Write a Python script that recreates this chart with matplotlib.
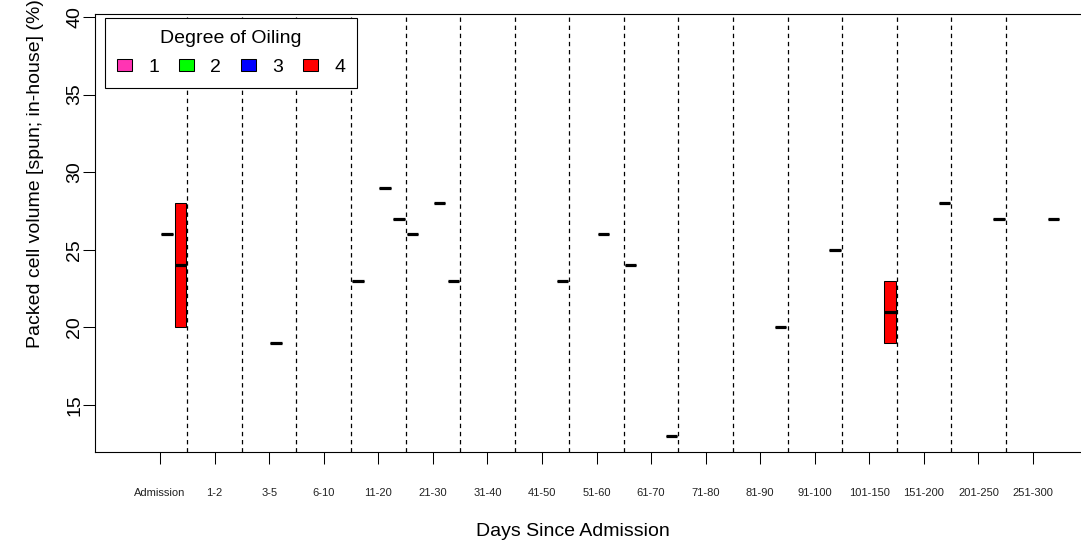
import math
import matplotlib
matplotlib.use('Agg')
import matplotlib.pyplot as plt
from matplotlib.patches import Patch

plt.rcParams['font.family'] = ['Liberation Sans', 'DejaVu Sans']

# day groups on the x axis
day_groups = ['Admission', '1-2', '3-5', '6-10', '11-20', '21-30', '31-40',
              '41-50', '51-60', '61-70', '71-80', '81-90', '91-100',
              '101-150', '151-200', '201-250', '251-300']
oiling_degrees = [1, 2, 3, 4]
degree_colors = ['#FF34B3', '#00FF00', '#0000FF', '#FF0000']

# one PCV reading per row
obs_group = ['Admission', 'Admission', 'Admission', '3-5',
             '11-20', '11-20', '11-20', '21-30', '21-30', '21-30',
             '41-50', '51-60', '61-70', '61-70', '81-90', '91-100',
             '101-150', '101-150', '151-200', '201-250', '251-300']
obs_degree = [3, 4, 4, 3,
              1, 3, 4, 1, 3, 4,
              4, 3, 1, 4, 4, 4,
              4, 4, 4, 4, 4]
obs_pcv = [26, 20, 28, 19,
           23, 29, 27, 26, 28, 23,
           23, 26, 24, 13, 20, 25,
           19, 23, 28, 27, 27]


def fivenum(vals):
    # Tukey five number summary, like R's boxplot
    v = sorted(vals)
    n = len(v)
    n4 = math.floor((n + 3) / 2) / 2
    d = [1, n4, (n + 1) / 2, n + 1 - n4, n]
    return [0.5 * (v[math.floor(x) - 1] + v[math.ceil(x) - 1]) for x in d]


W, H = 1081, 549
fig = plt.figure(figsize=(W / 100, H / 100), dpi=100)
ax_w = W - 95 + 11
ax = fig.add_axes([95 / W, 1 - 452 / H, ax_w / W, (452 - 14) / H])

# boxes: one slot per oiling degree inside each day group
for g, grp in enumerate(day_groups):
    for d, col in zip(oiling_degrees, degree_colors):
        vals = [p for gg, dd, p in zip(obs_group, obs_degree, obs_pcv) if gg == grp and dd == d]
        if not vals:
            continue
        lo, q1, med, q3, hi = fivenum(vals)
        st = [dict(med=med, q1=q1, q3=q3, whislo=lo, whishi=hi, fliers=[])]
        ax.bxp(st, positions=[g * 4 + d], widths=0.85, patch_artist=True,
               manage_ticks=False, showcaps=False,
               boxprops=dict(facecolor=col, edgecolor='black', linewidth=0.75),
               medianprops=dict(color='black', linewidth=2.3, solid_capstyle='butt'),
               whiskerprops=dict(color='black', linewidth=0.75, linestyle='--'))

# dashed separators between day groups
for g in range(len(day_groups) - 1):
    ax.axvline(g * 4 + 4.5, color='black', linestyle=(0, (3.5, 3)), linewidth=0.9, zorder=0)

ax.set_xlim(-2.27, -2.27 + ax_w / 13.64)
ax.set_ylim(11.97, 40.19)
ax.set_xticks([g * 4 + 2.5 for g in range(len(day_groups))])
ax.set_xticklabels(day_groups, fontsize=8, color='#222222')
ax.set_yticks([15, 20, 25, 30, 35, 40])
ax.tick_params(axis='x', length=8.6, width=0.75, pad=17, direction='out')
ax.tick_params(axis='y', length=8.6, width=0.75, pad=0, labelsize=14, labelrotation=90)
for lab in ax.get_yticklabels():
    lab.set_va('center')
ax.spines['right'].set_visible(False)
for s in ['left', 'top', 'bottom']:
    ax.spines[s].set_linewidth(0.8)

fig.text(572.5 / W, 1 - 531 / H, 'Days Since Admission', fontsize=14, ha='center', va='center')
fig.text(36 / W, 1 - 174 / H, 'Packed cell volume [spun; in-house] (%)', fontsize=14,
         rotation=90, ha='center', va='center')

handles = [Patch(facecolor=c, edgecolor='black', linewidth=0.75) for c in degree_colors]
leg = ax.legend(handles, [str(d) for d in oiling_degrees], title='Degree of Oiling',
                ncol=4, loc='upper left', bbox_to_anchor=(105 / W, 1 - 18 / H),
                bbox_transform=fig.transFigure, borderaxespad=0, fontsize=14,
                title_fontsize=14, handlelength=0.77, handleheight=0.62,
                handletextpad=0.85, columnspacing=1.01, borderpad=0.6,
                labelspacing=0.62, fancybox=False, framealpha=1, edgecolor='black')
leg.get_frame().set_linewidth(0.8)

fig.savefig('out.png', dpi=100)
